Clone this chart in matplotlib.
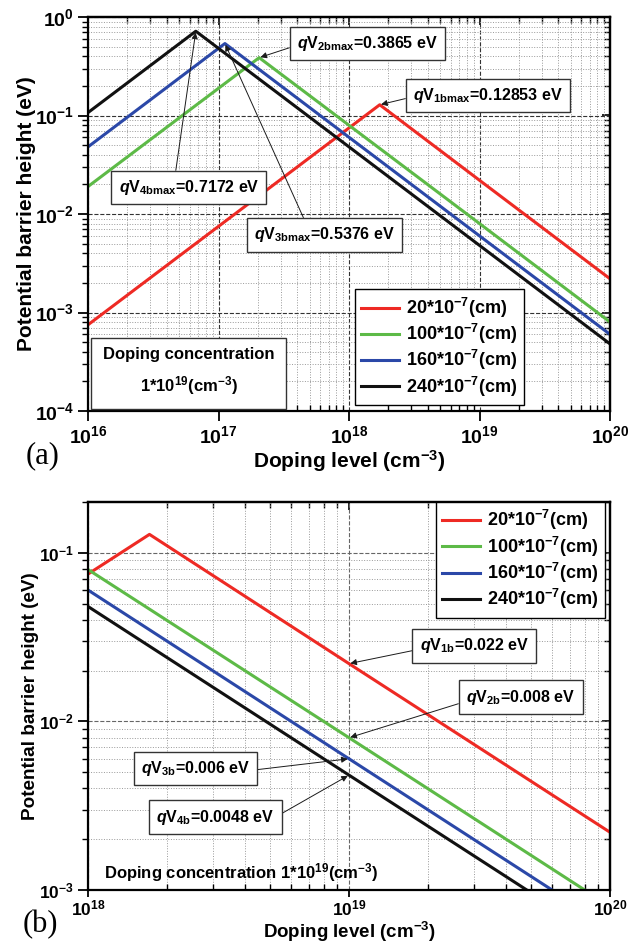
import numpy as np
import matplotlib
matplotlib.use("Agg")
import matplotlib.pyplot as plt
from matplotlib.ticker import LogLocator, NullFormatter

plt.rcParams['font.family'] = ['Liberation Sans', 'DejaVu Sans']
plt.rcParams['font.weight'] = 'bold'
plt.rcParams['axes.labelweight'] = 'bold'
plt.rcParams['mathtext.fontset'] = 'custom'
plt.rcParams['mathtext.rm'] = 'Liberation Sans:bold'
plt.rcParams['mathtext.it'] = 'Liberation Sans:italic:bold'
plt.rcParams['mathtext.bf'] = 'Liberation Sans:bold'
plt.rcParams['mathtext.default'] = 'regular'

# grain size in units of 1e-7 cm
thickness = ['20', '100', '160', '240']
colors = ['#ee2a24', '#5dba47', '#2b48a8', '#111111']

# doping levels (cm^-3) of the curve vertices
n_start = 1e16
n_peak = [1.72e18, 2.05e17, 1.12e17, 6.7e16]
n_ref = 1e19
n_end = 1e20

# barrier height (eV) at those doping levels
v_start = [7.5e-4, 0.019, 0.048, 0.107]
v_peak = [0.12853, 0.3865, 0.5376, 0.7172]
v_ref = [0.022, 0.008, 0.006, 0.0048]
v_end = [0.0022, 0.0008, 0.0006, 0.00048]


def style_axes(ax, xlim, ylim, major_grid, tick_size, xpad, xlen):
    ax.set_xscale('log')
    ax.set_yscale('log')
    ax.set_xlim(*xlim)
    ax.set_ylim(*ylim)
    for axis in (ax.xaxis, ax.yaxis):
        axis.set_major_locator(LogLocator(base=10, numticks=20))
        axis.set_minor_locator(LogLocator(base=10, subs=np.arange(2, 10), numticks=20))
        axis.set_minor_formatter(NullFormatter())
    ax.grid(True, which='major', ls='--', color=major_grid, lw=0.8)
    ax.grid(True, which='minor', ls=':', color='0.6', lw=0.7)
    ax.set_axisbelow(True)
    ax.tick_params(which='major', direction='out', length=7, width=1.3,
                   labelsize=tick_size, pad=3, top=False, right=False)
    ax.tick_params(axis='x', which='major', pad=xpad, length=xlen)
    ax.tick_params(axis='x', which='minor', direction='in', length=4, width=1,
                   top=False)
    ax.tick_params(axis='y', which='minor', direction='out', length=4, width=1,
                   right=False)
    for s in ax.spines.values():
        s.set_linewidth(1.6)

    top = ax.secondary_xaxis('top')
    top.tick_params(which='major', direction='in', length=6, width=1.2, labeltop=False)
    top.tick_params(which='minor', direction='in', length=4, width=1)
    top.spines['top'].set_linewidth(1.6)
    right = ax.secondary_yaxis('right')
    right.tick_params(which='major', direction='in', length=6, width=1.2, labelright=False)
    right.tick_params(which='minor', direction='in', length=4, width=1)
    right.spines['right'].set_linewidth(1.6)


def draw_curves(ax):
    for i in range(len(thickness)):
        xs = [n_start, n_peak[i], n_ref, n_end]
        ys = [v_start[i], v_peak[i], v_ref[i], v_end[i]]
        ax.plot(xs, ys, color=colors[i], lw=2.2,
                label=thickness[i] + r'*10$^{-7}$(cm)')


def add_legend(ax, **kw):
    leg = ax.legend(fontsize=13, frameon=True, fancybox=False, edgecolor='k',
                    framealpha=1, handlelength=2.1, labelspacing=0.12,
                    borderpad=0.35, handletextpad=0.4, **kw)
    leg.get_frame().set_linewidth(1.0)
    return leg


box = dict(boxstyle='square,pad=0.45', fc='white', ec='0.2', lw=1.0)
arrow = dict(arrowstyle='-|>', color='0.1', lw=0.7, mutation_scale=9,
             shrinkA=0, shrinkB=1)

fig = plt.figure(figsize=(6.34, 9.43), dpi=100)

# ---------------- (a) ----------------
ax_a = fig.add_axes([88 / 634, 1 - 411 / 943, 522 / 634, 394 / 943])
style_axes(ax_a, (1e16, 1e20), (1e-4, 1), '0.2', 14, 3, 7)
draw_curves(ax_a)
add_legend(ax_a, loc='center', bbox_to_anchor=(0.673, 0.162))

peak_pos = [(0.766, 0.80), (0.535, 0.933), (0.453, 0.447), (0.193, 0.567)]
peak_rel = [(0, 0.45), (0, 0.4), (0.375, 1), (0.4, 1)]
for i in range(len(thickness)):
    ax_a.annotate(r'$\mathit{q}$V$_{%dbmax}$=%s eV' % (i + 1, v_peak[i]),
                  xy=(n_peak[i], v_peak[i]), xycoords='data',
                  xytext=peak_pos[i], textcoords='axes fraction',
                  ha='center', va='center', fontsize=11.5, bbox=box,
                  arrowprops=dict(arrow, relpos=peak_rel[i]))

ax_a.text(0.193, 0.099, 'Doping concentration\n1*10$^{19}$(cm$^{-3}$)',
          transform=ax_a.transAxes, ha='center', va='center', fontsize=12,
          linespacing=1.7,
          bbox=dict(boxstyle='square,pad=0.7', fc='white', ec='0.2', lw=1.0))

ax_a.set_xlabel('Doping level (cm$^{-3}$)', fontsize=15, labelpad=1)
ax_a.set_ylabel('Potential barrier height (eV)', fontsize=15)
ax_a.yaxis.set_label_coords(-0.10, 0.5)

# ---------------- (b) ----------------
ax_b = fig.add_axes([88 / 634, 1 - 890 / 943, 522 / 634, 388 / 943])
style_axes(ax_b, (1e18, 1e20), (1e-3, 0.2), '0.4', 12.5, 1, 5)
draw_curves(ax_b)
add_legend(ax_b, loc='upper right', bbox_to_anchor=(0.99, 1.0), borderaxespad=0)

ref_pos = [(0.740, 0.629), (0.829, 0.497), (0.206, 0.313), (0.244, 0.188)]
ref_rel = [(0, 0.33), (0, 0.28), (1, 0.4), (1, 0.47)]
for i in range(len(thickness)):
    ax_b.annotate(r'$\mathit{q}$V$_{%db}$=%s eV' % (i + 1, v_ref[i]),
                  xy=(n_ref, v_ref[i]), xycoords='data',
                  xytext=ref_pos[i], textcoords='axes fraction',
                  ha='center', va='center', fontsize=11.5, bbox=box,
                  arrowprops=dict(arrow, relpos=ref_rel[i]))

ax_b.text(0.293, 0.044, 'Doping concentration 1*10$^{19}$(cm$^{-3}$)',
          transform=ax_b.transAxes, ha='center', va='center', fontsize=12)

ax_b.set_xlabel('Doping level (cm$^{-3}$)', fontsize=13.5, labelpad=1)
ax_b.set_ylabel('Potential barrier height (eV)', fontsize=13.6)
ax_b.yaxis.set_label_coords(-0.094, 0.5)

fig.text(43 / 634, 1 - 456 / 943, '(a)', family='Liberation Serif',
         weight='normal', fontsize=22, ha='center', va='center')
fig.text(40 / 634, 1 - 925 / 943, '(b)', family='Liberation Serif',
         weight='normal', fontsize=22, ha='center', va='center')

fig.savefig('out.png', dpi=100)
